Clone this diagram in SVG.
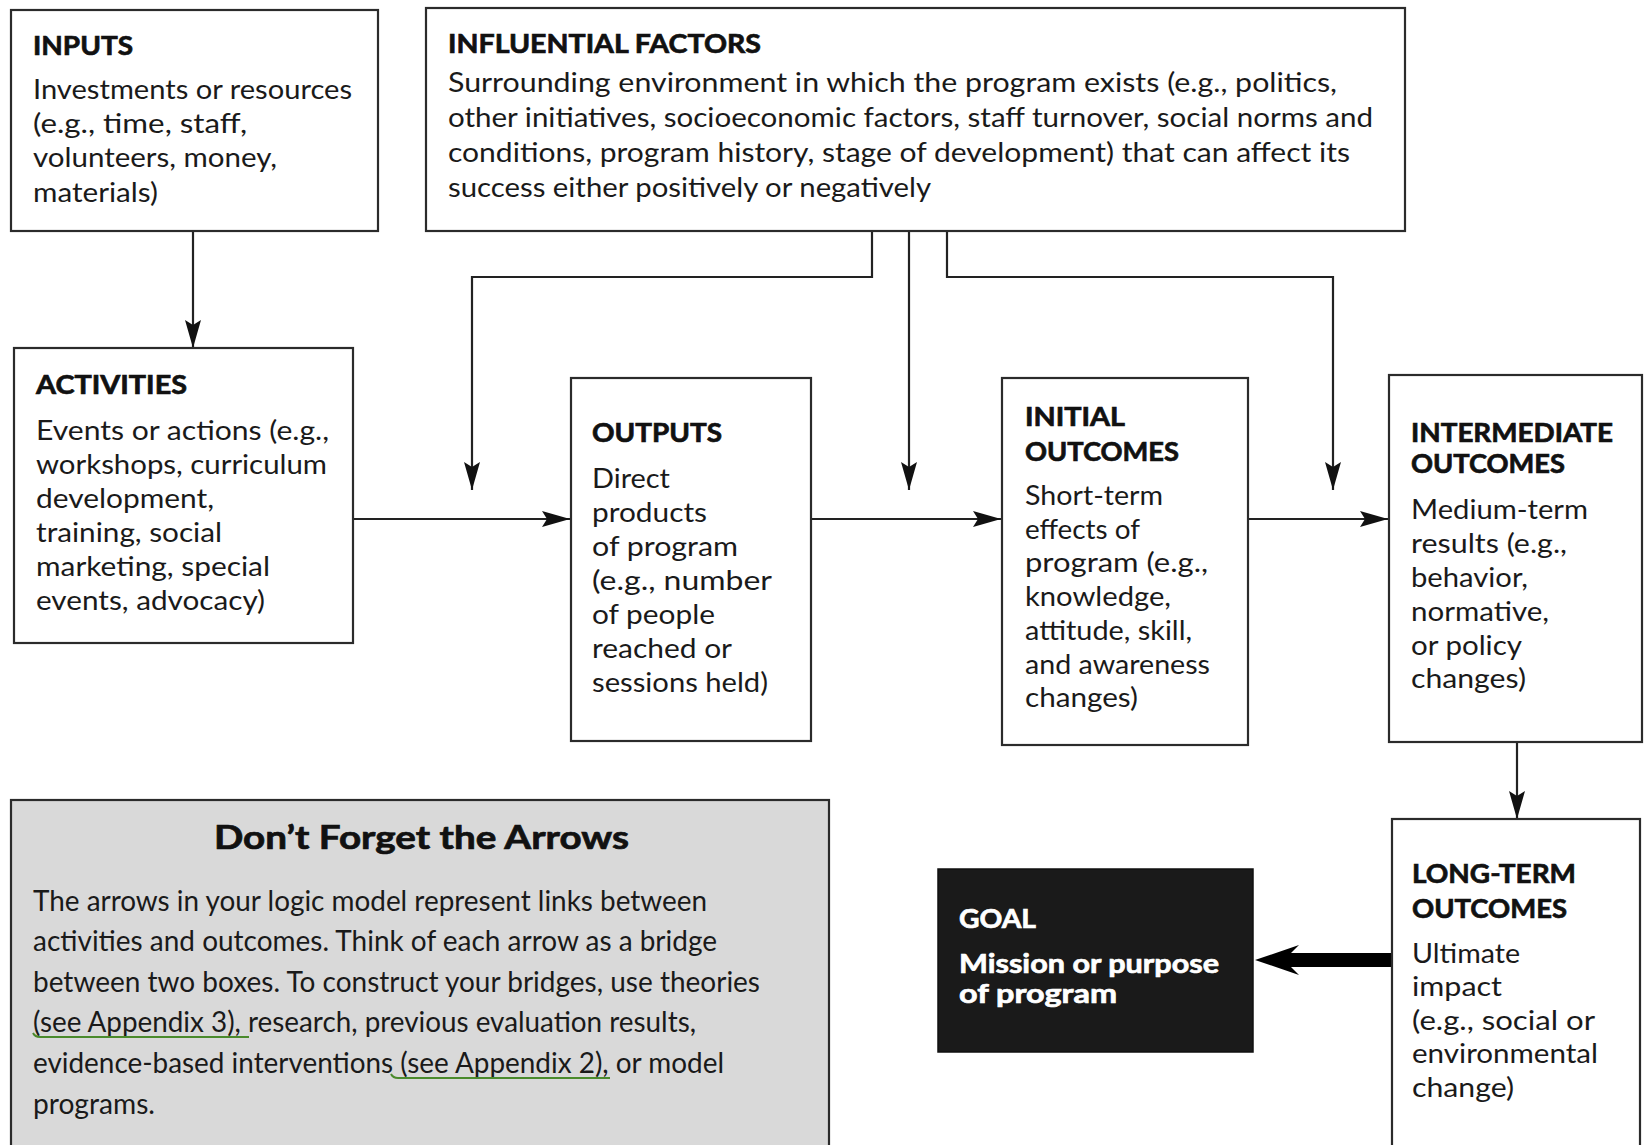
<svg xmlns="http://www.w3.org/2000/svg" width="1647" height="1145" viewBox="0 0 1647 1145">
<defs>
<style>
.box{fill:#fff;stroke:#2b2b2b;stroke-width:2.2}
.t{font-family:Lato,"Open Sans","Liberation Sans",sans-serif;font-size:27px;fill:#1a1a1a}
.h{font-family:Lato,"Open Sans","Liberation Sans",sans-serif;font-size:27px;font-weight:bold;fill:#111;stroke:#111;stroke-width:0.7}
.n{font-family:Lato,"Open Sans","Liberation Sans",sans-serif;font-size:29px;fill:#1a1a1a}
.w{fill:#fff;stroke:#fff}
.c{fill:none;stroke:#222;stroke-width:2.2}
.u{stroke:#4a8a2c;stroke-width:2;fill:none}
</style>
<marker id="ah" markerUnits="userSpaceOnUse" markerWidth="30" markerHeight="18" refX="28" refY="8" orient="auto" viewBox="0 0 30 18">
<path d="M0,0 L28,8 L0,16 L5,8 Z" fill="#111"/>
</marker>
</defs>

<g id="connectors">
<line class="c" x1="193" y1="231" x2="193" y2="348" marker-end="url(#ah)"/>
<polyline class="c" points="872,231 872,277 472,277 472,490" marker-end="url(#ah)"/>
<line class="c" x1="909" y1="231" x2="909" y2="490" marker-end="url(#ah)"/>
<polyline class="c" points="947,231 947,277 1333,277 1333,490" marker-end="url(#ah)"/>
<line class="c" x1="353" y1="519" x2="570" y2="519" marker-end="url(#ah)"/>
<line class="c" x1="811" y1="519" x2="1001" y2="519" marker-end="url(#ah)"/>
<line class="c" x1="1248" y1="519" x2="1388" y2="519" marker-end="url(#ah)"/>
<line class="c" x1="1517" y1="742" x2="1517" y2="819" marker-end="url(#ah)"/>
<polygon points="1255,960 1299,945 1291,953 1392,953 1392,967 1291,967 1299,975" fill="#000"/>
</g>

<g id="inputs">
<rect class="box" x="11" y="10" width="367" height="221"/>
<text class="h" x="33" y="55" textLength="100" lengthAdjust="spacingAndGlyphs">INPUTS</text>
<text class="t" x="33" y="99" textLength="319" lengthAdjust="spacingAndGlyphs">Investments or resources</text>
<text class="t" x="33" y="133" textLength="214" lengthAdjust="spacingAndGlyphs">(e.g., time, staff,</text>
<text class="t" x="33" y="167" textLength="244" lengthAdjust="spacingAndGlyphs">volunteers, money,</text>
<text class="t" x="33" y="202" textLength="125" lengthAdjust="spacingAndGlyphs">materials)</text>
</g>

<g id="influential-factors">
<rect class="box" x="426" y="8" width="979" height="223"/>
<text class="h" x="448" y="53" textLength="313" lengthAdjust="spacingAndGlyphs">INFLUENTIAL FACTORS</text>
<text class="t" x="448" y="92" textLength="889" lengthAdjust="spacingAndGlyphs">Surrounding environment in which the program exists (e.g., politics,</text>
<text class="t" x="448" y="127" textLength="925" lengthAdjust="spacingAndGlyphs">other initiatives, socioeconomic factors, staff turnover, social norms and</text>
<text class="t" x="448" y="162" textLength="902" lengthAdjust="spacingAndGlyphs">conditions, program history, stage of development) that can affect its</text>
<text class="t" x="448" y="197" textLength="483" lengthAdjust="spacingAndGlyphs">success either positively or negatively</text>
</g>

<g id="activities">
<rect class="box" x="14" y="348" width="339" height="295"/>
<text class="h" x="36" y="394" textLength="151" lengthAdjust="spacingAndGlyphs">ACTIVITIES</text>
<text class="t" x="36" y="440" textLength="293" lengthAdjust="spacingAndGlyphs">Events or actions (e.g.,</text>
<text class="t" x="36" y="474" textLength="291" lengthAdjust="spacingAndGlyphs">workshops, curriculum</text>
<text class="t" x="36" y="508" textLength="178" lengthAdjust="spacingAndGlyphs">development,</text>
<text class="t" x="36" y="542" textLength="186" lengthAdjust="spacingAndGlyphs">training, social</text>
<text class="t" x="36" y="576" textLength="234" lengthAdjust="spacingAndGlyphs">marketing, special</text>
<text class="t" x="36" y="610" textLength="229" lengthAdjust="spacingAndGlyphs">events, advocacy)</text>
</g>

<g id="outputs">
<rect class="box" x="571" y="378" width="240" height="363"/>
<text class="h" x="592" y="442" textLength="130" lengthAdjust="spacingAndGlyphs">OUTPUTS</text>
<text class="t" x="592" y="488" textLength="78" lengthAdjust="spacingAndGlyphs">Direct</text>
<text class="t" x="592" y="522" textLength="115" lengthAdjust="spacingAndGlyphs">products</text>
<text class="t" x="592" y="556" textLength="146" lengthAdjust="spacingAndGlyphs">of program</text>
<text class="t" x="592" y="590" textLength="180" lengthAdjust="spacingAndGlyphs">(e.g., number</text>
<text class="t" x="592" y="624" textLength="123" lengthAdjust="spacingAndGlyphs">of people</text>
<text class="t" x="592" y="658" textLength="140" lengthAdjust="spacingAndGlyphs">reached or</text>
<text class="t" x="592" y="692" textLength="176" lengthAdjust="spacingAndGlyphs">sessions held)</text>
</g>

<g id="initial-outcomes">
<rect class="box" x="1002" y="378" width="246" height="367"/>
<text class="h" x="1025" y="426" textLength="100" lengthAdjust="spacingAndGlyphs">INITIAL</text>
<text class="h" x="1025" y="461" textLength="154" lengthAdjust="spacingAndGlyphs">OUTCOMES</text>
<text class="t" x="1025" y="505" textLength="138" lengthAdjust="spacingAndGlyphs">Short-term</text>
<text class="t" x="1025" y="539" textLength="115" lengthAdjust="spacingAndGlyphs">effects of</text>
<text class="t" x="1025" y="572" textLength="183" lengthAdjust="spacingAndGlyphs">program (e.g.,</text>
<text class="t" x="1025" y="606" textLength="146" lengthAdjust="spacingAndGlyphs">knowledge,</text>
<text class="t" x="1025" y="640" textLength="167" lengthAdjust="spacingAndGlyphs">attitude, skill,</text>
<text class="t" x="1025" y="674" textLength="185" lengthAdjust="spacingAndGlyphs">and awareness</text>
<text class="t" x="1025" y="707" textLength="113" lengthAdjust="spacingAndGlyphs">changes)</text>
</g>

<g id="intermediate-outcomes">
<rect class="box" x="1389" y="375" width="253" height="367"/>
<text class="h" x="1411" y="442" textLength="202" lengthAdjust="spacingAndGlyphs">INTERMEDIATE</text>
<text class="h" x="1411" y="473" textLength="154" lengthAdjust="spacingAndGlyphs">OUTCOMES</text>
<text class="t" x="1411" y="519" textLength="177" lengthAdjust="spacingAndGlyphs">Medium-term</text>
<text class="t" x="1411" y="553" textLength="156" lengthAdjust="spacingAndGlyphs">results (e.g.,</text>
<text class="t" x="1411" y="587" textLength="117" lengthAdjust="spacingAndGlyphs">behavior,</text>
<text class="t" x="1411" y="621" textLength="138" lengthAdjust="spacingAndGlyphs">normative,</text>
<text class="t" x="1411" y="655" textLength="111" lengthAdjust="spacingAndGlyphs">or policy</text>
<text class="t" x="1411" y="688" textLength="115" lengthAdjust="spacingAndGlyphs">changes)</text>
</g>

<g id="long-term-outcomes">
<rect class="box" x="1392" y="819" width="248" height="340"/>
<text class="h" x="1412" y="883" textLength="164" lengthAdjust="spacingAndGlyphs">LONG-TERM</text>
<text class="h" x="1412" y="918" textLength="155" lengthAdjust="spacingAndGlyphs">OUTCOMES</text>
<text class="t" x="1412" y="963" textLength="108" lengthAdjust="spacingAndGlyphs">Ultimate</text>
<text class="t" x="1412" y="996" textLength="90" lengthAdjust="spacingAndGlyphs">impact</text>
<text class="t" x="1412" y="1030" textLength="183" lengthAdjust="spacingAndGlyphs">(e.g., social or</text>
<text class="t" x="1412" y="1063" textLength="186" lengthAdjust="spacingAndGlyphs">environmental</text>
<text class="t" x="1412" y="1097" textLength="102" lengthAdjust="spacingAndGlyphs">change)</text>
</g>

<g id="goal">
<rect x="938" y="869" width="315" height="183" fill="#1a1a1a" stroke="#111" stroke-width="1.5"/>
<text class="h w" x="959" y="928" textLength="77" lengthAdjust="spacingAndGlyphs">GOAL</text>
<text class="h w" x="959" y="973" textLength="260" lengthAdjust="spacingAndGlyphs">Mission or purpose</text>
<text class="h w" x="959" y="1003" textLength="158" lengthAdjust="spacingAndGlyphs">of program</text>
</g>

<g id="dont-forget-the-arrows">
<rect x="11" y="800" width="818" height="360" fill="#d9d9d9" stroke="#2b2b2b" stroke-width="2.2"/>
<text class="h" x="214" y="849" style="font-size:32px" textLength="415" lengthAdjust="spacingAndGlyphs">Don’t Forget the Arrows</text>
<text class="n" x="33" y="911" textLength="674" lengthAdjust="spacingAndGlyphs">The arrows in your logic model represent links between</text>
<text class="n" x="33" y="951" textLength="684" lengthAdjust="spacingAndGlyphs">activities and outcomes. Think of each arrow as a bridge</text>
<text class="n" x="33" y="992" textLength="727" lengthAdjust="spacingAndGlyphs">between two boxes. To construct your bridges, use theories</text>
<text class="n" x="33" y="1032" textLength="663" lengthAdjust="spacingAndGlyphs">(see Appendix 3), research, previous evaluation results,</text>
<text class="n" x="33" y="1073" textLength="691" lengthAdjust="spacingAndGlyphs">evidence-based interventions (see Appendix 2), or model</text>
<text class="n" x="33" y="1114" textLength="122" lengthAdjust="spacingAndGlyphs">programs.</text>
<path class="u" d="M33,1033 Q35,1037 40,1037 L249,1037"/>
<path class="u" d="M391,1074 Q393,1078 398,1078 L610,1078"/>
</g>
</svg>
